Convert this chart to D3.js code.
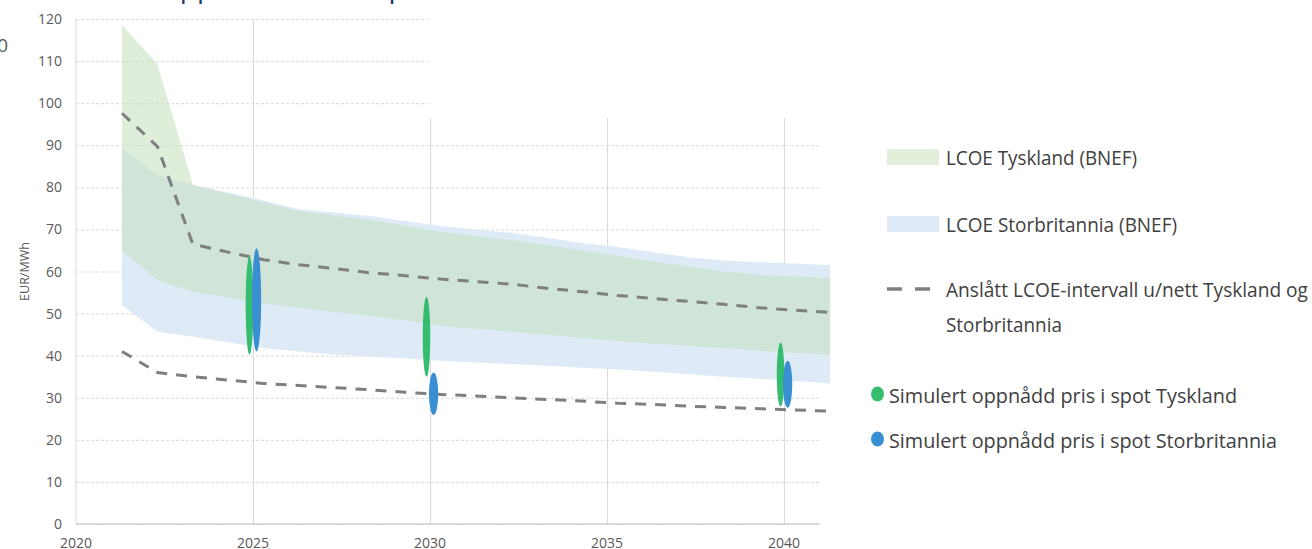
<!DOCTYPE html>
<html>
<head>
<meta charset="utf-8">
<script src="https://cdn.jsdelivr.net/npm/d3@7"></script>
<style>
  html, body { margin: 0; padding: 0; background: #fff; }
  svg { display: block; }
  text { font-family: "Open Sans", "Liberation Sans", sans-serif; }
</style>
</head>
<body>
<svg id="chart" width="1312" height="549"></svg>
<script>
// Years of the BNEF projections
const years = [2021, 2022, 2023, 2024, 2025, 2026, 2027, 2028, 2029, 2030,
               2031, 2032, 2033, 2034, 2035, 2036, 2037, 2038, 2039, 2040, 2041];

// LCOE Tyskland (BNEF), high and low, EUR/MWh
const deHigh = [118.5, 109.3, 80.6, 78.5, 76.4, 74.3, 73.3, 72.3, 70.8, 69.4,
                68.4, 67.4, 66.3, 65.0, 63.7, 62.4, 61.2, 60.0, 59.2, 58.8, 58.4];
const deLow  = [65.0, 58.0, 55.2, 53.8, 52.4, 51.4, 50.4, 49.5, 48.4, 47.1,
                46.4, 45.7, 45.0, 44.2, 43.5, 42.9, 42.3, 41.8, 41.2, 40.7, 40.2];

// LCOE Storbritannia (BNEF), high and low, EUR/MWh
const ukHigh = [89.3, 82.9, 80.6, 78.8, 76.9, 74.8, 74.0, 73.2, 72.0, 70.8,
                70.0, 69.2, 68.0, 66.8, 65.8, 64.6, 63.4, 62.6, 62.2, 61.9, 61.5];
const ukLow  = [52.0, 45.7, 44.5, 43.2, 41.8, 41.0, 40.3, 39.8, 39.3, 38.8,
                38.4, 38.0, 37.6, 37.1, 36.7, 36.2, 35.6, 35.0, 34.5, 34.0, 33.4];

// Anslått LCOE-intervall u/nett, upper and lower bound
const estHigh = [97.6, 89.7, 66.5, 64.6, 62.8, 61.6, 60.7, 59.7, 59.0, 58.2,
                 57.6, 57.0, 56.0, 55.2, 54.3, 53.6, 52.9, 52.2, 51.4, 50.8, 50.3];
const estLow  = [41.0, 36.0, 35.0, 34.2, 33.4, 32.9, 32.4, 31.9, 31.3, 30.8,
                 30.4, 30.0, 29.6, 29.2, 28.7, 28.4, 28.0, 27.7, 27.4, 27.1, 26.8];

// Simulated captured spot price ranges (min, max) per year
const spotYears = [2025, 2030, 2040];
const spotDeMin = [40.2, 35.0, 27.9];
const spotDeMax = [63.7, 54.0, 43.1];
const spotUkMin = [41.0, 25.9, 27.6];
const spotUkMax = [65.5, 36.0, 38.8];

// Axis ticks
const xTicks = [2020, 2025, 2030, 2035, 2040];
const yTicks = [0, 10, 20, 30, 40, 50, 60, 70, 80, 90, 100, 110, 120];

// Legend entries
const legendAreas = ["LCOE Tyskland (BNEF)", "LCOE Storbritannia (BNEF)"];
const legendLine = ["Anslått LCOE-intervall u/nett Tyskland og", "Storbritannia"];
const legendDots = ["Simulert oppnådd pris i spot Tyskland", "Simulert oppnådd pris i spot Storbritannia"];

const svg = d3.select("#chart");

const x = d3.scaleLinear().domain([2020, 2041]).range([76, 819.5]);
const y = d3.scaleLinear().domain([0, 120]).range([524, 19]);
const shift = 0.3;   // projection points sit a little after the year tick
const px = i => x(years[i] + shift);

const gridColor = "#d9d9d9";
const textColor = "#595959";

// Partially visible heading above the chart
svg.append("text")
  .attr("x", 158).attr("y", -3)
  .attr("font-size", 28)
  .attr("fill", "#1f3864")
  .text("Oppnådd verdi i spot og LCOE");

svg.append("text")
  .attr("x", 8).attr("y", 52)
  .attr("text-anchor", "end")
  .attr("font-size", 19)
  .attr("fill", textColor)
  .text("0");

// Horizontal gridlines
const gy = svg.append("g")
  .attr("transform", `translate(${x(2020)},0)`)
  .call(d3.axisLeft(y).tickValues(yTicks).tickSize(-(x(2041) - x(2020))).tickFormat(""));
gy.select(".domain").remove();
gy.selectAll("line")
  .attr("stroke", gridColor)
  .attr("stroke-dasharray", "3,2")
  .attr("stroke-width", 1);

// Vertical gridlines
const gx = svg.append("g")
  .attr("transform", `translate(0,${y(0)})`)
  .call(d3.axisBottom(x).tickValues(xTicks.slice(1)).tickSize(-(y(0) - y(120))).tickFormat(""));
gx.select(".domain").remove();
gx.selectAll("line").attr("stroke", gridColor).attr("stroke-width", 1);

// Blank block in the upper right of the plot area
svg.append("rect")
  .attr("x", 428).attr("y", 0)
  .attr("width", 1312 - 428).attr("height", y(96.5))
  .attr("fill", "#fff");

// Axis lines
svg.append("line")
  .attr("x1", x(2020)).attr("x2", x(2020))
  .attr("y1", y(0)).attr("y2", y(120))
  .attr("stroke", gridColor);
svg.append("line")
  .attr("x1", x(2020)).attr("x2", x(2041))
  .attr("y1", y(0)).attr("y2", y(0))
  .attr("stroke", "#bfbfbf");

// Tick labels
svg.append("g").selectAll("text")
  .data(yTicks).join("text")
  .attr("x", 62).attr("y", d => y(d) + 5)
  .attr("text-anchor", "end")
  .attr("font-size", 14)
  .attr("fill", textColor)
  .text(d => d);

svg.append("g").selectAll("text")
  .data(xTicks).join("text")
  .attr("x", d => x(d)).attr("y", 548)
  .attr("text-anchor", "middle")
  .attr("font-size", 14)
  .attr("fill", textColor)
  .text(d => d);

svg.append("text")
  .attr("transform", `translate(29,${y(60)}) rotate(-90)`)
  .attr("text-anchor", "middle")
  .attr("font-size", 12.5)
  .attr("fill", textColor)
  .text("EUR/MWh");

// LCOE bands
const band = (hi, lo) => d3.area()
  .x((d, i) => px(i))
  .y0((d, i) => y(lo[i]))
  .y1((d, i) => y(hi[i]));

svg.append("path")
  .attr("d", band(ukHigh, ukLow)(years))
  .attr("fill", "#deebf7");

svg.append("path")
  .attr("d", band(deHigh, deLow)(years))
  .attr("fill", "#c4dfbe")
  .attr("fill-opacity", 0.55);

// Estimated LCOE interval, dashed
const dashLine = vals => d3.line().x((d, i) => px(i)).y((d, i) => y(vals[i]))(years);
[estHigh, estLow].forEach(vals => {
  svg.append("path")
    .attr("d", dashLine(vals))
    .attr("fill", "none")
    .attr("stroke", "#7f7f7f")
    .attr("stroke-width", 3)
    .attr("stroke-dasharray", "11,9");
});

// Simulated captured spot price ranges
const spotGroups = [
  { min: spotDeMin, max: spotDeMax, dx: -0.1, rx: 3.8, color: "#35bd6f" },
  { min: spotUkMin, max: spotUkMax, dx: 0.1, rx: 4.6, color: "#3a8fd2" }
];
spotGroups.forEach(g => {
  svg.append("g").selectAll("ellipse")
    .data(spotYears).join("ellipse")
    .attr("cx", d => x(d + g.dx))
    .attr("cy", (d, i) => (y(g.min[i]) + y(g.max[i])) / 2)
    .attr("rx", g.rx)
    .attr("ry", (d, i) => (y(g.min[i]) - y(g.max[i])) / 2)
    .attr("fill", g.color);
});

// Legend
const lg = svg.append("g").attr("font-size", 20).attr("fill", "#404040");
const swatchColors = ["#e2efda", "#deebf7"];
const swatchY = [149, 216];
const areaWidths = [191, 231];
legendAreas.forEach((t, i) => {
  lg.append("rect")
    .attr("x", 887).attr("y", swatchY[i])
    .attr("width", 52).attr("height", 16)
    .attr("fill", swatchColors[i]);
  lg.append("text")
    .attr("x", 946).attr("y", swatchY[i] + 16)
    .attr("textLength", areaWidths[i]).attr("lengthAdjust", "spacingAndGlyphs")
    .text(t);
});

[[887, 902], [915, 930]].forEach(seg => {
  lg.append("line")
    .attr("x1", seg[0]).attr("x2", seg[1])
    .attr("y1", 289).attr("y2", 289)
    .attr("stroke", "#7f7f7f").attr("stroke-width", 3.5);
});
const lineWidths = [362, 116];
legendLine.forEach((t, i) => {
  lg.append("text")
    .attr("x", 946).attr("y", 297 + i * 35)
    .attr("textLength", lineWidths[i]).attr("lengthAdjust", "spacingAndGlyphs")
    .text(t);
});

const dotColors = ["#35bd6f", "#3a8fd2"];
const dotY = [394, 439];
const dotWidths = [348, 388];
legendDots.forEach((t, i) => {
  lg.append("ellipse")
    .attr("cx", 877.5).attr("cy", dotY[i])
    .attr("rx", 6.5).attr("ry", 7.5)
    .attr("fill", dotColors[i]);
  lg.append("text")
    .attr("x", 889).attr("y", dotY[i] + 9)
    .attr("textLength", dotWidths[i]).attr("lengthAdjust", "spacingAndGlyphs")
    .text(t);
});
</script>
</body>
</html>
